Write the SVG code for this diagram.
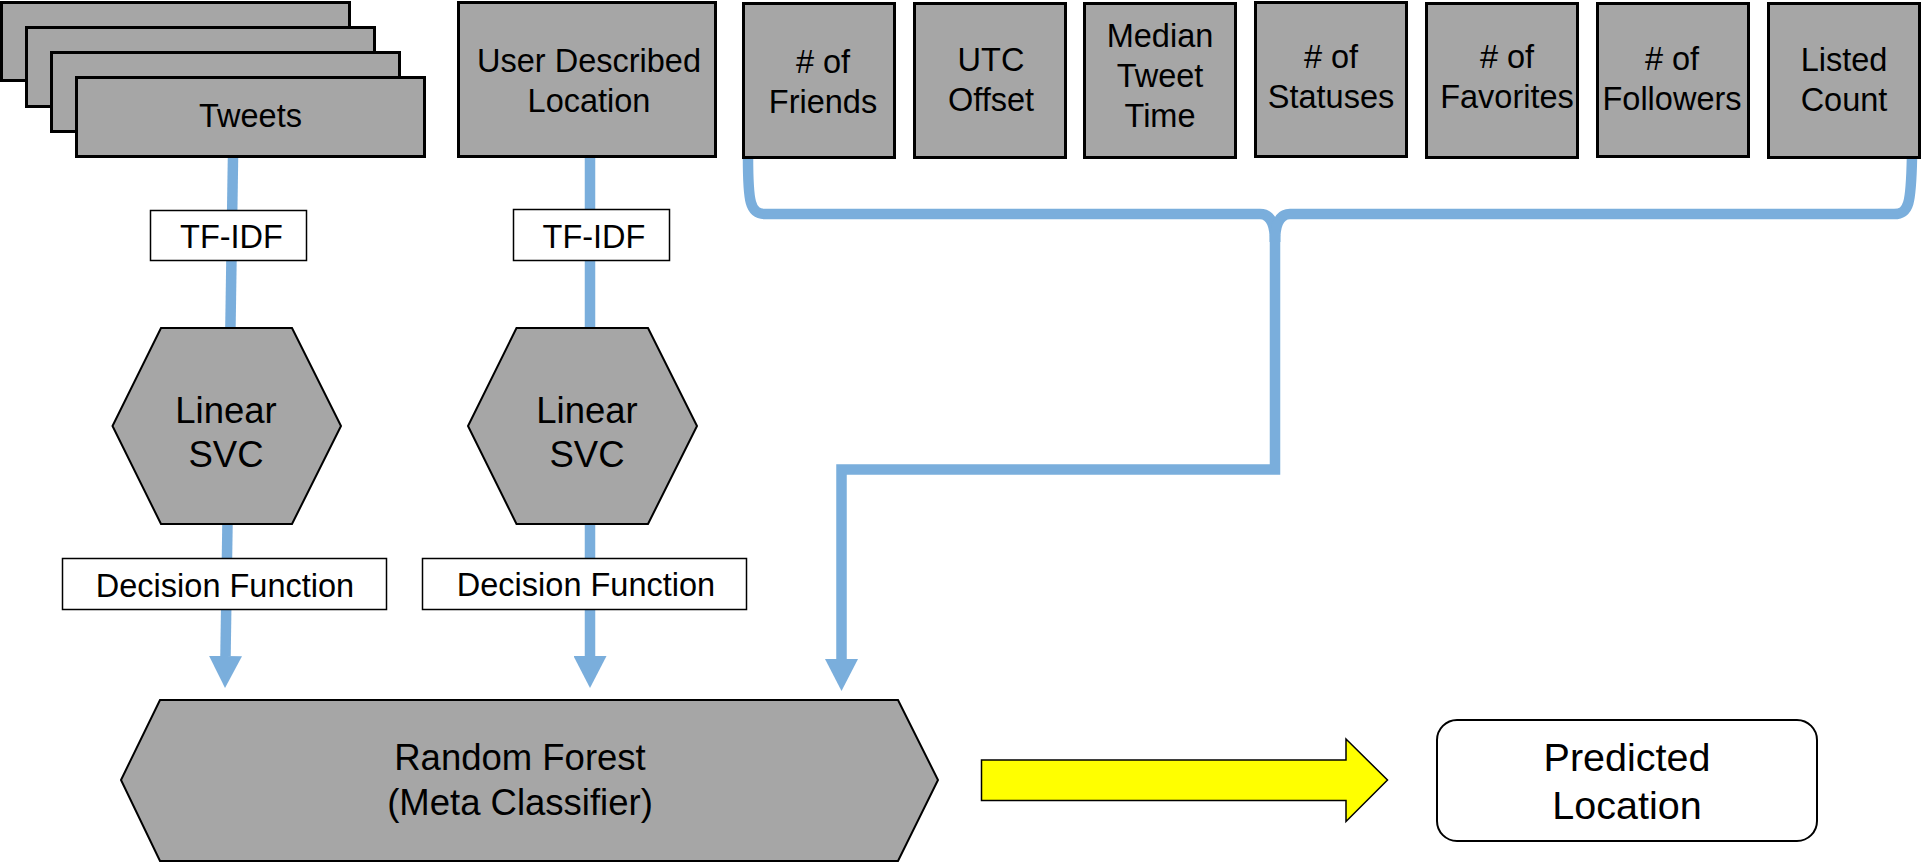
<svg xmlns="http://www.w3.org/2000/svg" width="1922" height="862" viewBox="0 0 1922 862">
<style>
  text { font-family: "Liberation Sans", Arial, sans-serif; fill: #000; text-anchor: middle; }
  .box { fill: #a6a6a6; stroke: #000; stroke-width: 3; }
  .hex { fill: #a6a6a6; stroke: #000; stroke-width: 2; }
  .lbl { fill: #fff; stroke: #000; stroke-width: 1.5; }
  .conn { fill: none; stroke: #7aaedc; stroke-width: 10.5; }
  .t { font-size: 32.5px; }
  .t2 { font-size: 36.5px; }
  .t3 { font-size: 39.5px; }
</style>
<defs>
  <marker id="ah" markerUnits="userSpaceOnUse" viewBox="0 0 32 33" markerWidth="32" markerHeight="33" refX="0" refY="16.5" orient="auto">
    <path d="M0,0 L32,16.5 L0,33 Z" fill="#7aaedc"/>
  </marker>
</defs>

<g id="connectors">
  <path class="conn" d="M233,157 L225.5,656" marker-end="url(#ah)"/>
  <path class="conn" d="M590,157 L590,656" marker-end="url(#ah)"/>
  <path class="conn" d="M748,157 C748,202 750,214 765,214 L1260,214 Q1275,214 1275,242"/>
  <path class="conn" d="M1912,157 C1911,204 1909,214 1894,214 L1290,214 Q1275,214 1275,242"/>
  <path class="conn" d="M1275,235 L1275,469.5 L841.5,469.5 L841.5,659" marker-end="url(#ah)"/>
</g>

<g id="tweets">
  <rect class="box" x="1.5" y="2.5" width="348" height="78"/>
  <rect class="box" x="26.5" y="27.5" width="348" height="79"/>
  <rect class="box" x="51.5" y="52.5" width="348" height="79"/>
  <rect class="box" x="76.5" y="77.5" width="348" height="79"/>
  <text class="t" x="250.5" y="126.7">Tweets</text>
</g>

<g id="user-location">
  <rect class="box" x="458.5" y="2.5" width="257" height="154"/>
  <text class="t" x="589" y="72">User Described</text>
  <text class="t" x="589" y="112">Location</text>
</g>

<g id="friends">
  <rect class="box" x="743.5" y="3.5" width="151" height="154"/>
  <text class="t" x="823" y="73"># of</text>
  <text class="t" x="823" y="113">Friends</text>
</g>
<g id="utc">
  <rect class="box" x="914.5" y="3.5" width="151" height="154"/>
  <text class="t" x="991" y="71">UTC</text>
  <text class="t" x="991" y="111">Offset</text>
</g>
<g id="median">
  <rect class="box" x="1084.5" y="3.5" width="151" height="154"/>
  <text class="t" x="1160" y="47">Median</text>
  <text class="t" x="1160" y="87">Tweet</text>
  <text class="t" x="1160" y="127">Time</text>
</g>
<g id="statuses">
  <rect class="box" x="1255.5" y="2.5" width="151" height="154"/>
  <text class="t" x="1331" y="68"># of</text>
  <text class="t" x="1331" y="108">Statuses</text>
</g>
<g id="favorites">
  <rect class="box" x="1426.5" y="3.5" width="151" height="154"/>
  <text class="t" x="1507" y="68"># of</text>
  <text class="t" x="1507" y="108">Favorites</text>
</g>
<g id="followers">
  <rect class="box" x="1597.5" y="3.5" width="151" height="153"/>
  <text class="t" x="1672" y="70"># of</text>
  <text class="t" x="1672" y="110">Followers</text>
</g>
<g id="listed">
  <rect class="box" x="1768.5" y="3.5" width="151" height="154"/>
  <text class="t" x="1844" y="71">Listed</text>
  <text class="t" x="1844" y="111">Count</text>
</g>

<g id="tfidf-1">
  <rect class="lbl" x="150.5" y="210.5" width="156" height="50"/>
  <text class="t" x="231.5" y="248">TF-IDF</text>
</g>
<g id="tfidf-2">
  <rect class="lbl" x="513.5" y="209.5" width="156" height="51"/>
  <text class="t" x="594" y="248">TF-IDF</text>
</g>

<g id="svc-1">
  <polygon class="hex" points="161,328 292,328 341,426 292,524 161,524 112.5,426"/>
  <text class="t2" x="226" y="423">Linear</text>
  <text class="t2" x="226" y="467">SVC</text>
</g>
<g id="svc-2">
  <polygon class="hex" points="516.5,328 648,328 697,426 648,524 516.5,524 468,426"/>
  <text class="t2" x="587" y="423">Linear</text>
  <text class="t2" x="587" y="467">SVC</text>
</g>

<g id="decision-1">
  <rect class="lbl" x="62.5" y="558.5" width="324" height="51"/>
  <text class="t" x="225" y="597">Decision Function</text>
</g>
<g id="decision-2">
  <rect class="lbl" x="422.5" y="558.5" width="324" height="51"/>
  <text class="t" x="586" y="596">Decision Function</text>
</g>

<g id="random-forest">
  <polygon class="hex" points="160,700 898,700 938,780 898,861 160,861 121,780"/>
  <text class="t2" x="520" y="770">Random Forest</text>
  <text class="t2" x="520" y="815">(Meta Classifier)</text>
</g>

<g id="big-arrow">
  <polygon points="981.5,760 1346,760 1346,739 1387.5,780 1346,821.5 1346,800.5 981.5,800.5" fill="#ffff00" stroke="#000" stroke-width="1.5"/>
</g>

<g id="predicted">
  <rect x="1437" y="720" width="380" height="121" rx="20" ry="20" fill="#fff" stroke="#000" stroke-width="2"/>
  <text class="t3" x="1627" y="771">Predicted</text>
  <text class="t3" x="1627" y="819">Location</text>
</g>
</svg>
